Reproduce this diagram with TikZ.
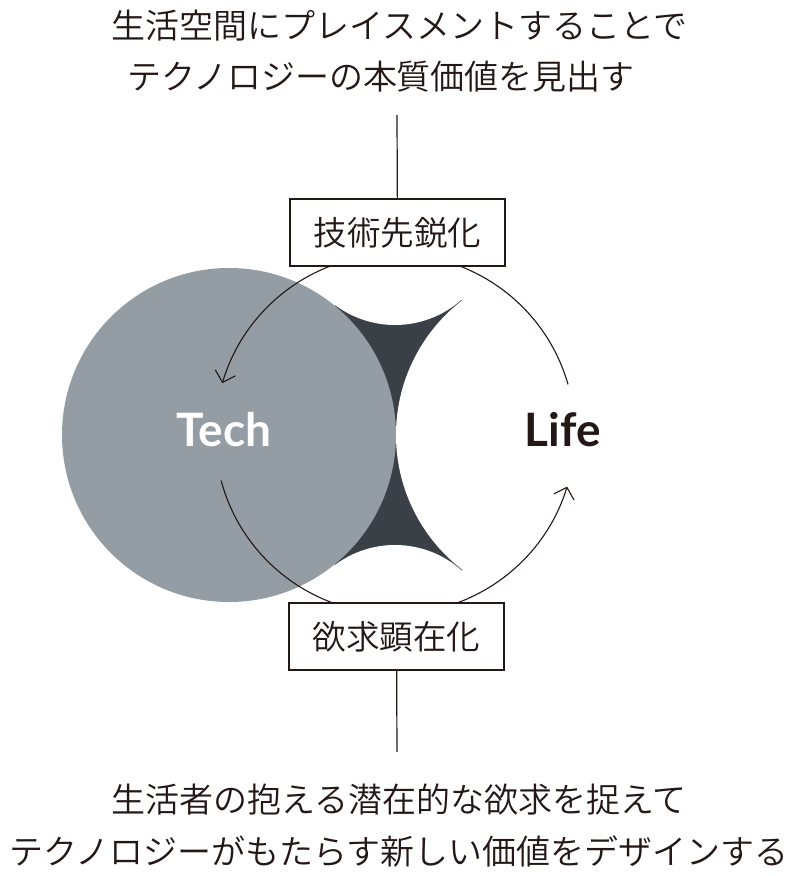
\documentclass[tikz,border=0pt]{standalone}
\usepackage{fontspec}
\setmainfont{Lato}
\newfontfamily\jpfont{Noto Sans CJK JP DemiLight}
\usetikzlibrary{arrows.meta,positioning}
\definecolor{ink}{HTML}{231815}
\definecolor{techgray}{HTML}{939DA3}
\definecolor{cusp}{HTML}{3A4045}
\begin{document}
\begin{tikzpicture}[x=1pt, y=1pt,
    phrase/.style={text=ink, inner sep=0pt, font=\jpfont\fontsize{34}{40}\selectfont},
    key box/.style={draw=ink, line width=1.3pt, fill=white, minimum width=215pt, minimum height=67pt, inner sep=0pt, text=ink, font=\jpfont\fontsize{33.5}{40}\selectfont},
    flow/.style={ink, line width=1.1pt, -{Straight Barb[length=10pt,width=21pt]}},
    title/.style={inner sep=0pt, font=\bfseries\fontsize{46}{50}\selectfont}]

    \useasboundingbox (0,0) rectangle (796,876);

    % dark cusps between the two circles
    \fill[cusp] (335,304) rectangle (462,576);
    \fill[white] (566,441) circle[radius=170];
    \fill[white] (395,651) circle[radius=100];
    \fill[white] (395,231) circle[radius=100];
    \fill[techgray] (229,441) circle[radius=167];

    \coordinate (c) at (395,442);
    \coordinate (up start) at ([shift={(16:180)}]c);
    \coordinate (down start) at ([shift={(195:180)}]c);

    \draw[flow] (up start) arc[start angle=16, end angle=163.6, radius=180];
    \draw[flow] (down start) arc[start angle=195, end angle=343, radius=180];

    \node[key box] (sharpen) at (397.5,643.5) {技術先鋭化};
    \node[key box] (reveal) at (396.5,239.5) {欲求顕在化};

    \node[title, text=white] (tech) at (224,446) {Tech};
    \node[title, text=ink] (life) at (563,446) {Life};

    \node[phrase] (top1) at (399,850) {生活空間にプレイスメントすることで};
    \node[phrase] (top2) at (381,799) {テクノロジーの本質価値を見出す};
    \node[phrase] (bottom1) at (399,76) {生活者の抱える潜在的な欲求を捉えて};
    \node[phrase] (bottom2) at (399,25) {テクノロジーがもたらす新しい価値をデザインする};

    \coordinate (top end) at (397,761);
    \coordinate (bottom end) at (397,124);

    \draw[ink, line width=1.2pt] (top end) -- (sharpen);
    \draw[ink, line width=1.2pt] (reveal) -- (bottom end);
\end{tikzpicture}
\end{document}
